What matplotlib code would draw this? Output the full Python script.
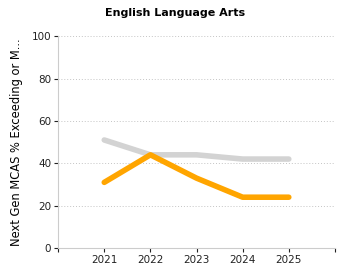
import matplotlib
matplotlib.use("Agg")
import matplotlib.pyplot as plt

years = [2021, 2022, 2023, 2024, 2025]
state_pct = [51, 44, 44, 42, 42]
school_pct = [31, 44, 33, 24, 24]
tick_years = [2020, 2021, 2022, 2023, 2024, 2025, 2026]
tick_labels = ["", "2021", "2022", "2023", "2024", "2025", ""]

fig = plt.figure(figsize=(3.5, 2.8), dpi=100)
ax = fig.add_axes([0.166, 0.114, 0.791, 0.757])

ax.plot(years, state_pct, color="#d3d3d3", linewidth=4, solid_capstyle="round", zorder=2)
ax.plot(years, school_pct, color="#ffa500", linewidth=4, solid_capstyle="round", zorder=3)

ax.set_xlim(2020, 2026)
ax.set_ylim(0, 100)
ax.set_xticks(tick_years)
ax.set_xticklabels(tick_labels)
ax.set_yticks([0, 20, 40, 60, 80, 100])
ax.tick_params(labelsize=7.5, length=3, width=0.8, colors="#222222", pad=2)
ax.yaxis.grid(True, linestyle=(0, (1, 2)), color="#c4c4c4", linewidth=0.7)
ax.set_axisbelow(True)

for side in ["top", "right"]:
    ax.spines[side].set_visible(False)
for side in ["left", "bottom"]:
    ax.spines[side].set_color("#cccccc")

ax.set_ylabel("Next Gen MCAS % Exceeding or M...", fontsize=8.3, labelpad=6)
fig.text(0.5, 0.953, "English Language Arts", fontsize=8, fontweight="bold",
         ha="center", va="center")

fig.savefig("out.png", dpi=100)
